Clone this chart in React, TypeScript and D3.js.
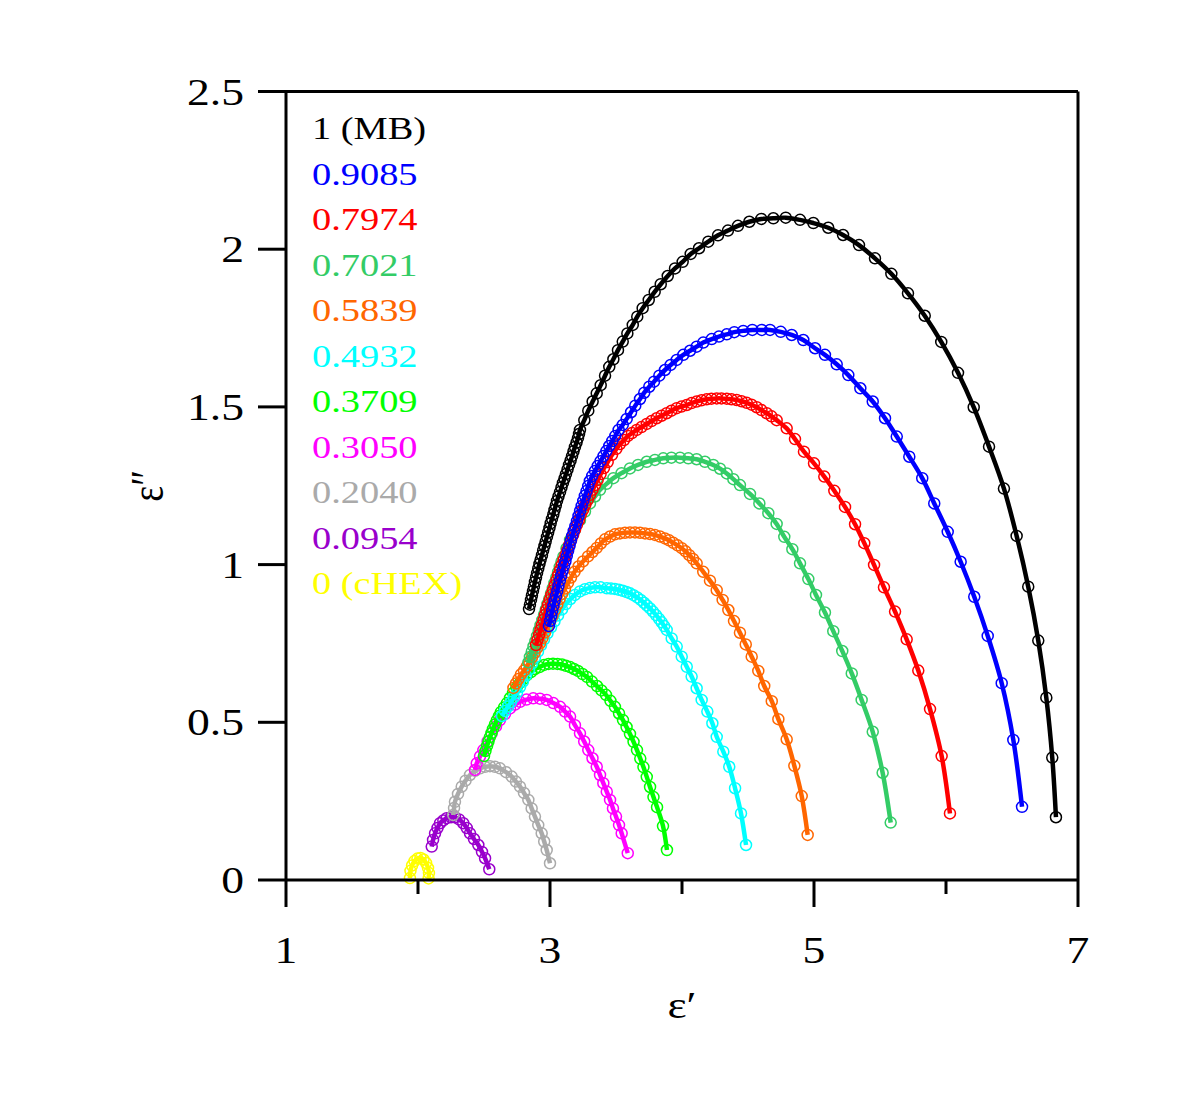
import React from 'react'
import * as d3 from 'd3'

const W = 1200
const H = 1093

const xTicks = [1, 3, 5, 7]
const xMinorTicks = [2, 4, 6]
const yTicks = [0, 0.5, 1, 1.5, 2, 2.5]
const yTickLabels = ['0', '0.5', '1', '1.5', '2', '2.5']

const seriesNames = ['1 (MB)', '0.9085', '0.7974', '0.7021', '0.5839', '0.4932', '0.3709', '0.3050', '0.2040', '0.0954', '0 (cHEX)']
const seriesColors = ['#000000', '#0000ff', '#ff0000', '#33cc66', '#ff6600', '#00ffff', '#00ff00', '#ff00ff', '#aaaaaa', '#9900cc', '#ffff00']

// [eps', eps''], high-frequency end first
const s1MB = [
  [2.841,0.859],[2.848,0.873],[2.856,0.888],[2.863,0.902],[2.871,0.916],[2.878,0.930],[2.886,0.945],[2.894,0.959],[2.902,0.973],[2.911,0.988],
  [2.920,1.002],[2.929,1.016],[2.939,1.030],[2.948,1.045],[2.958,1.059],[2.967,1.073],[2.977,1.088],[2.986,1.102],[2.996,1.116],[3.005,1.131],
  [3.015,1.145],[3.025,1.159],[3.034,1.173],[3.044,1.188],[3.053,1.202],[3.064,1.216],[3.076,1.230],[3.087,1.245],[3.098,1.259],[3.110,1.273],
  [3.121,1.287],[3.133,1.302],[3.144,1.316],[3.156,1.330],[3.167,1.344],[3.178,1.359],[3.189,1.373],[3.201,1.387],[3.212,1.401],[3.220,1.414],
  [3.227,1.427],[3.260,1.458],[3.290,1.488],[3.323,1.517],[3.354,1.543],[3.384,1.569],[3.417,1.599],[3.449,1.627],[3.480,1.651],[3.515,1.680],
  [3.551,1.707],[3.586,1.733],[3.627,1.760],[3.661,1.786],[3.702,1.813],[3.748,1.839],[3.793,1.865],[3.839,1.889],[3.892,1.915],[3.947,1.939],
  [4.005,1.960],[4.066,1.985],[4.129,2.003],[4.199,2.024],[4.273,2.044],[4.348,2.059],[4.424,2.074],[4.510,2.087],[4.601,2.096],[4.692,2.098],
  [4.786,2.100],[4.894,2.093],[4.995,2.083],[5.108,2.068],[5.220,2.045],[5.341,2.013],[5.462,1.971],[5.586,1.922],[5.712,1.860],[5.839,1.789],
  [5.964,1.706],[6.091,1.608],[6.210,1.499],[6.326,1.374],[6.439,1.241],[6.535,1.091],[6.623,0.930],[6.699,0.759],[6.760,0.578],[6.805,0.388],
  [6.833,0.199],
]

const s09085 = [
  [2.992,0.805],[3.000,0.821],[3.009,0.837],[3.017,0.853],[3.026,0.869],[3.035,0.885],[3.045,0.900],[3.055,0.916],[3.064,0.932],[3.074,0.948],
  [3.085,0.964],[3.095,0.980],[3.106,0.996],[3.117,1.011],[3.127,1.027],[3.137,1.043],[3.148,1.059],[3.158,1.075],[3.168,1.091],[3.180,1.107],
  [3.192,1.122],[3.204,1.138],[3.216,1.154],[3.228,1.170],[3.240,1.186],[3.252,1.202],[3.264,1.218],[3.277,1.233],[3.289,1.249],[3.302,1.265],
  [3.320,1.281],[3.341,1.297],[3.362,1.313],[3.383,1.328],[3.405,1.344],[3.427,1.360],[3.449,1.376],[3.472,1.392],[3.495,1.408],[3.520,1.427],
  [3.551,1.443],[3.581,1.462],[3.614,1.483],[3.646,1.504],[3.682,1.525],[3.714,1.545],[3.752,1.564],[3.788,1.580],[3.828,1.599],[3.871,1.617],
  [3.914,1.633],[3.960,1.649],[4.010,1.665],[4.061,1.678],[4.111,1.691],[4.161,1.704],[4.225,1.715],[4.280,1.723],[4.339,1.730],[4.396,1.737],
  [4.464,1.741],[4.533,1.744],[4.604,1.744],[4.667,1.744],[4.748,1.738],[4.831,1.728],[4.919,1.712],[5.008,1.686],[5.083,1.665],[5.172,1.635],
  [5.260,1.601],[5.351,1.559],[5.445,1.517],[5.538,1.464],[5.627,1.406],[5.722,1.342],[5.820,1.274],[5.911,1.194],[6.013,1.104],[6.111,1.009],
  [6.214,0.898],[6.316,0.774],[6.422,0.624],[6.510,0.444],[6.576,0.232],
]

const s07974 = [
  [2.894,0.745],[2.905,0.761],[2.917,0.777],[2.928,0.793],[2.939,0.808],[2.951,0.824],[2.962,0.840],[2.973,0.856],[2.985,0.872],[2.998,0.888],
  [3.010,0.904],[3.023,0.919],[3.036,0.935],[3.049,0.951],[3.062,0.967],[3.076,0.983],[3.089,0.999],[3.103,1.015],[3.117,1.030],[3.131,1.046],
  [3.145,1.062],[3.160,1.078],[3.175,1.094],[3.189,1.110],[3.204,1.126],[3.219,1.141],[3.233,1.157],[3.250,1.173],[3.267,1.189],[3.286,1.205],
  [3.303,1.221],[3.322,1.237],[3.341,1.252],[3.361,1.268],[3.383,1.287],[3.409,1.306],[3.437,1.325],[3.470,1.348],[3.503,1.367],[3.530,1.382],
  [3.561,1.395],[3.591,1.408],[3.621,1.417],[3.657,1.427],[3.693,1.436],[3.733,1.446],[3.769,1.455],[3.808,1.464],[3.845,1.472],[3.884,1.480],
  [3.920,1.488],[3.960,1.496],[3.996,1.501],[4.036,1.506],[4.072,1.512],[4.111,1.517],[4.148,1.521],[4.187,1.524],[4.223,1.526],[4.263,1.527],
  [4.299,1.527],[4.339,1.526],[4.375,1.524],[4.414,1.522],[4.451,1.518],[4.490,1.513],[4.527,1.507],[4.566,1.499],[4.602,1.490],[4.642,1.480],
  [4.678,1.470],[4.717,1.458],[4.793,1.432],[4.856,1.398],[4.924,1.358],[5.000,1.321],[5.078,1.279],[5.154,1.234],[5.235,1.183],[5.311,1.128],
  [5.381,1.068],[5.455,0.999],[5.530,0.928],[5.614,0.851],[5.702,0.763],[5.790,0.664],[5.879,0.542],[5.967,0.393],[6.030,0.211],
]

const s07021 = [
  [2.836,0.690],[2.848,0.707],[2.862,0.724],[2.875,0.741],[2.889,0.757],[2.902,0.774],[2.915,0.791],[2.928,0.808],[2.942,0.825],[2.955,0.841],
  [2.968,0.858],[2.981,0.875],[2.995,0.892],[3.008,0.909],[3.021,0.925],[3.034,0.942],[3.048,0.959],[3.061,0.976],[3.074,0.993],[3.087,1.009],
  [3.101,1.025],[3.125,1.051],[3.152,1.078],[3.189,1.110],[3.227,1.141],[3.265,1.168],[3.303,1.194],[3.341,1.216],[3.379,1.237],[3.428,1.256],
  [3.480,1.274],[3.542,1.290],[3.606,1.305],[3.667,1.316],[3.733,1.326],[3.795,1.332],[3.858,1.337],[3.920,1.339],[3.985,1.339],[4.048,1.337],
  [4.111,1.334],[4.174,1.326],[4.237,1.316],[4.288,1.304],[4.339,1.289],[4.389,1.271],[4.439,1.252],[4.515,1.224],[4.586,1.194],[4.654,1.163],
  [4.717,1.129],[4.775,1.088],[4.836,1.049],[4.894,1.004],[4.957,0.954],[5.015,0.904],[5.083,0.848],[5.146,0.789],[5.214,0.726],[5.286,0.655],
  [5.361,0.571],[5.445,0.470],[5.520,0.340],[5.581,0.182],
]

const s05839 = [
  [2.723,0.609],[2.742,0.623],[2.761,0.637],[2.780,0.652],[2.803,0.664],[2.823,0.676],[2.843,0.691],[2.864,0.706],[2.884,0.721],[2.904,0.736],
  [2.924,0.750],[2.943,0.767],[2.962,0.785],[2.981,0.802],[3.000,0.820],[3.019,0.837],[3.038,0.856],[3.055,0.873],[3.073,0.891],[3.092,0.907],
  [3.114,0.924],[3.136,0.942],[3.159,0.959],[3.186,0.977],[3.216,0.994],[3.250,1.010],[3.288,1.026],[3.322,1.040],[3.354,1.053],[3.385,1.067],
  [3.417,1.080],[3.455,1.089],[3.492,1.096],[3.530,1.099],[3.568,1.101],[3.606,1.102],[3.644,1.102],[3.682,1.101],[3.720,1.099],[3.758,1.097],
  [3.795,1.094],[3.833,1.089],[3.871,1.083],[3.902,1.077],[3.934,1.069],[3.966,1.061],[3.998,1.052],[4.027,1.042],[4.055,1.030],[4.083,1.018],
  [4.111,1.004],[4.161,0.977],[4.212,0.949],[4.263,0.919],[4.308,0.888],[4.351,0.856],[4.394,0.821],[4.439,0.784],[4.483,0.747],[4.528,0.708],
  [4.578,0.663],[4.623,0.615],[4.680,0.567],[4.730,0.510],[4.793,0.446],[4.851,0.362],[4.907,0.266],[4.952,0.143],
]

const s04932 = [
  [2.636,0.520],[2.659,0.536],[2.682,0.550],[2.705,0.564],[2.727,0.579],[2.750,0.594],[2.773,0.612],[2.795,0.629],[2.818,0.648],[2.841,0.667],
  [2.864,0.686],[2.886,0.705],[2.909,0.724],[2.932,0.744],[2.955,0.763],[2.981,0.782],[3.008,0.801],[3.034,0.820],[3.061,0.839],[3.091,0.858],
  [3.121,0.875],[3.155,0.891],[3.189,0.904],[3.227,0.915],[3.265,0.922],[3.303,0.926],[3.341,0.928],[3.383,0.928],[3.430,0.925],[3.462,0.924],
  [3.492,0.923],[3.523,0.920],[3.551,0.917],[3.580,0.913],[3.606,0.909],[3.633,0.903],[3.661,0.896],[3.687,0.888],[3.712,0.879],[3.735,0.870],
  [3.758,0.861],[3.780,0.851],[3.803,0.840],[3.826,0.828],[3.846,0.817],[3.865,0.805],[3.884,0.793],[3.922,0.766],[3.960,0.740],[3.998,0.708],
  [4.036,0.676],[4.073,0.645],[4.111,0.608],[4.149,0.571],[4.192,0.534],[4.230,0.497],[4.263,0.454],[4.313,0.407],[4.358,0.359],[4.402,0.291],
  [4.447,0.211],[4.485,0.111],
]

const s03709 = [
  [2.500,0.393],[2.511,0.409],[2.523,0.425],[2.534,0.439],[2.545,0.453],[2.557,0.466],[2.568,0.479],[2.583,0.493],[2.598,0.507],[2.614,0.520],
  [2.629,0.533],[2.652,0.547],[2.674,0.561],[2.697,0.577],[2.720,0.593],[2.746,0.609],[2.773,0.625],[2.799,0.637],[2.826,0.650],[2.856,0.659],
  [2.886,0.669],[2.920,0.675],[2.955,0.682],[2.989,0.685],[3.023,0.686],[3.057,0.685],[3.091,0.683],[3.121,0.679],[3.152,0.675],[3.182,0.669],
  [3.212,0.663],[3.246,0.653],[3.280,0.644],[3.318,0.629],[3.356,0.615],[3.390,0.601],[3.424,0.587],[3.458,0.568],[3.492,0.549],[3.523,0.528],
  [3.553,0.507],[3.580,0.485],[3.606,0.463],[3.633,0.438],[3.659,0.412],[3.684,0.385],[3.708,0.358],[3.733,0.327],[3.758,0.295],[3.784,0.263],
  [3.811,0.231],[3.856,0.171],[3.886,0.095],
]

const s03050 = [
  [2.432,0.349],[2.445,0.370],[2.470,0.392],[2.495,0.412],[2.527,0.439],[2.558,0.465],[2.591,0.487],[2.621,0.507],[2.659,0.526],[2.697,0.544],
  [2.735,0.556],[2.773,0.565],[2.822,0.572],[2.873,0.576],[2.924,0.575],[2.975,0.571],[3.025,0.561],[3.076,0.549],[3.114,0.534],[3.152,0.518],
  [3.189,0.491],[3.227,0.465],[3.259,0.439],[3.290,0.412],[3.322,0.386],[3.354,0.359],[3.379,0.333],[3.404,0.307],[3.430,0.280],[3.455,0.254],
  [3.477,0.227],[3.500,0.201],[3.523,0.174],[3.543,0.148],[3.589,0.085],
]

const s02040 = [
  [2.267,0.206],[2.273,0.228],[2.280,0.248],[2.303,0.273],[2.331,0.296],[2.360,0.315],[2.394,0.333],[2.432,0.346],[2.470,0.354],[2.508,0.359],
  [2.545,0.361],[2.583,0.359],[2.621,0.354],[2.667,0.342],[2.710,0.328],[2.742,0.312],[2.773,0.296],[2.803,0.276],[2.836,0.254],[2.861,0.227],
  [2.886,0.201],[2.911,0.174],[2.937,0.148],[2.956,0.122],[2.975,0.095],[3.000,0.053],
]

const s00954 = [
  [2.104,0.106],[2.114,0.127],[2.129,0.148],[2.148,0.165],[2.167,0.180],[2.192,0.189],[2.217,0.196],[2.250,0.199],[2.280,0.199],[2.311,0.192],
  [2.343,0.180],[2.369,0.165],[2.394,0.148],[2.424,0.130],[2.457,0.111],[2.485,0.089],[2.508,0.069],[2.540,0.034],
]

const s0cHEX = [
  [1.939,0.006],[1.943,0.029],[1.955,0.046],[1.973,0.060],[1.996,0.068],[2.019,0.070],[2.042,0.065],[2.061,0.054],[2.076,0.038],[2.083,0.022],
  [2.080,0.005],
]

const seriesData = [s1MB, s09085, s07974, s07021, s05839, s04932, s03709, s03050, s02040, s00954, s0cHEX]

const FONT = "'Liberation Serif', 'Times New Roman', serif"
const SX = 1.2 // the figure is stretched sideways

export default function App() {
  const x = d3.scaleLinear().domain([1, 7]).range([286, 1078])
  const y = d3.scaleLinear().domain([0, 2.5]).range([880, 91.5])
  const line = d3
    .line<number[]>()
    .x(d => x(d[0]))
    .y(d => y(d[1]))
    .curve(d3.curveCatmullRom)

  const order = seriesData.map((_, i) => i).reverse()
  const [x0, x1] = x.range()
  const [y0, y1] = y.range()

  return (
    <svg
      width={W}
      height={H}
      style={{ position: 'absolute', left: 0, top: 0, background: '#fff' }}
      fontFamily={FONT}
    >
      <rect width={W} height={H} fill='#fff' />

      {order.map(i => (
        <g key={seriesNames[i]}>
          {seriesData[i].map((d, j) => (
            <circle
              key={j}
              cx={x(d[0])}
              cy={y(d[1])}
              r={5.5}
              fill='none'
              stroke={seriesColors[i]}
              strokeWidth={1.5}
            />
          ))}
          <path d={line(seriesData[i]) || ''} fill='none' stroke={seriesColors[i]} strokeWidth={4.5} />
        </g>
      ))}

      {/* frame */}
      <g stroke='#000' strokeWidth={3} fill='none'>
        <line x1={x0} x2={x1} y1={y0} y2={y0} />
        <line x1={x0} x2={x1} y1={y1} y2={y1} />
        <line x1={x0} x2={x0} y1={y0} y2={y1} />
        <line x1={x1} x2={x1} y1={y0} y2={y1} />
        {xTicks.map(t => (
          <line key={t} x1={x(t)} x2={x(t)} y1={y0} y2={y0 + 27} />
        ))}
        {xMinorTicks.map(t => (
          <line key={t} x1={x(t)} x2={x(t)} y1={y0} y2={y0 + 14} />
        ))}
        {yTicks.map(t => (
          <line key={t} x1={x0 - 28} x2={x0} y1={y(t)} y2={y(t)} />
        ))}
      </g>

      {xTicks.map(t => (
        <text
          key={t}
          transform={`translate(${x(t)},${y0 + 83}) scale(${SX},1)`}
          textAnchor='middle'
          fontSize={38}
        >
          {t}
        </text>
      ))}
      {yTicks.map((t, i) => (
        <text
          key={t}
          transform={`translate(${x0 - 42},${y(t) + 13}) scale(${SX},1)`}
          textAnchor='end'
          fontSize={38}
        >
          {yTickLabels[i]}
        </text>
      ))}

      <text transform={`translate(${(x0 + x1) / 2},1018) scale(${SX},1)`} textAnchor='middle' fontSize={38}>
        ε′
      </text>
      <text transform={`translate(163,${(y0 + y1) / 2}) rotate(-90) scale(1,${SX})`} textAnchor='middle' fontSize={38}>
        ε″
      </text>

      {seriesNames.map((n, i) => (
        <text
          key={n}
          transform={`translate(312,${139 + i * 45.5}) scale(${SX},1)`}
          fontSize={32}
          fill={seriesColors[i]}
        >
          {n}
        </text>
      ))}
    </svg>
  )
}
